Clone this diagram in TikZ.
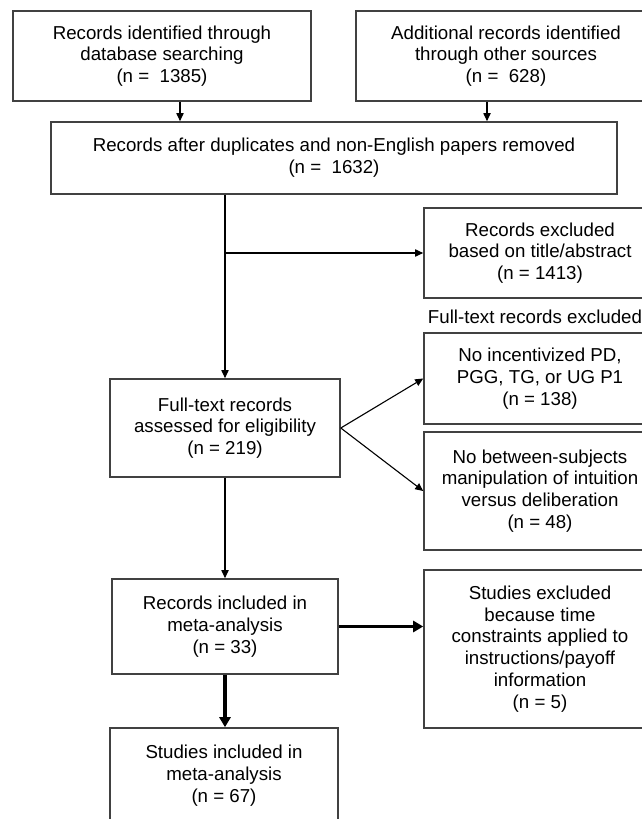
\documentclass[tikz,border=0pt]{standalone}
\usepackage{fontspec}
\setmainfont{Liberation Sans}
\usetikzlibrary{arrows.meta,positioning}
\definecolor{boxline}{RGB}{65,65,65}

\begin{document}
\begin{tikzpicture}[
  x=0.5pt, y=-0.5pt,
  every node/.style={font=\fontsize{9.35}{10.9}\selectfont},
  flowbox/.style={draw=boxline, line width=0.8pt, align=center, inner sep=0pt},
  thin arrow/.style={-{Triangle[length=4pt,width=3.6pt]}, line width=0.55pt},
  bold arrow/.style={-{Triangle[length=5pt,width=5.5pt]}, line width=1.6pt},
]

%% Page frame (boxes on the right run off the edge)
\useasboundingbox (0,0) rectangle (642,819);
\clip (0,0) rectangle (642,819);

%% ---- Identification ----
\node[flowbox, minimum width=149pt, minimum height=45pt] (database) at (162,56)
  {Records identified through\\database searching\\(n = ~1385)};
\node[flowbox, minimum width=150pt, minimum height=45pt] (other) at (506,56)
  {Additional records identified\\through other sources\\(n = ~628)};

%% ---- Screening ----
\node[flowbox, minimum width=283pt, minimum height=36pt] (dedup) at (334,158)
  {Records after duplicates and non-English papers removed\\(n = ~1632)};
\node[flowbox, minimum width=116pt, minimum height=45pt] (titleexcl) at (540,253)
  {Records excluded\\based on title/abstract\\(n = 1413)};

%% ---- Eligibility ----
\node (fulllabel) at (535,317) {Full-text records excluded};
\node[flowbox, minimum width=115pt, minimum height=49pt] (fulltext) at (225,428)
  {Full-text records\\assessed for eligibility\\(n = 219)};
\node[flowbox, minimum width=116pt, minimum height=45.5pt] (gameexcl) at (540,378.5)
  {No incentivized PD,\\PGG, TG, or UG P1\\(n = 138)};
\node[flowbox, minimum width=116pt, minimum height=59pt] (designexcl) at (540,491)
  {No between-subjects\\manipulation of intuition\\versus deliberation\\(n = 48)};

%% ---- Included ----
\node[flowbox, minimum width=113pt, minimum height=47.5pt] (records) at (225,626.5)
  {Records included in\\meta-analysis\\(n = 33)};
\node[flowbox, minimum width=116pt, minimum height=79pt] (timeexcl) at (540,649)
  {Studies excluded\\because time\\constraints applied to\\instructions/payoff\\information\\(n = 5)};
\node[flowbox, minimum width=114pt, minimum height=47.5pt] (studies) at (224,775.5)
  {Studies included in\\meta-analysis\\(n = 67)};

%% ---- Connectors ----
\draw[thin arrow] ([xshift=9pt]database.south) -- ([xshift=9pt]database.south |- dedup.north);
\draw[thin arrow] ([xshift=-9.5pt]other.south) -- ([xshift=-9.5pt]other.south |- dedup.north);

\draw[thin arrow] (dedup.south -| fulltext.north) -- (fulltext.north);
\draw[thin arrow] (fulltext.north |- titleexcl.west) -- (titleexcl.west);

\draw[thin arrow] (fulltext.east) -- (gameexcl.west);
\draw[thin arrow] (fulltext.east) -- (designexcl.west);
\draw[thin arrow] (fulltext.south) -- (records.north);

% thick ones
\draw[bold arrow] (records.east) -- (records.east -| timeexcl.west);
\draw[bold arrow] (records.south) -- (studies.north -| records.south);

\end{tikzpicture}
\end{document}
